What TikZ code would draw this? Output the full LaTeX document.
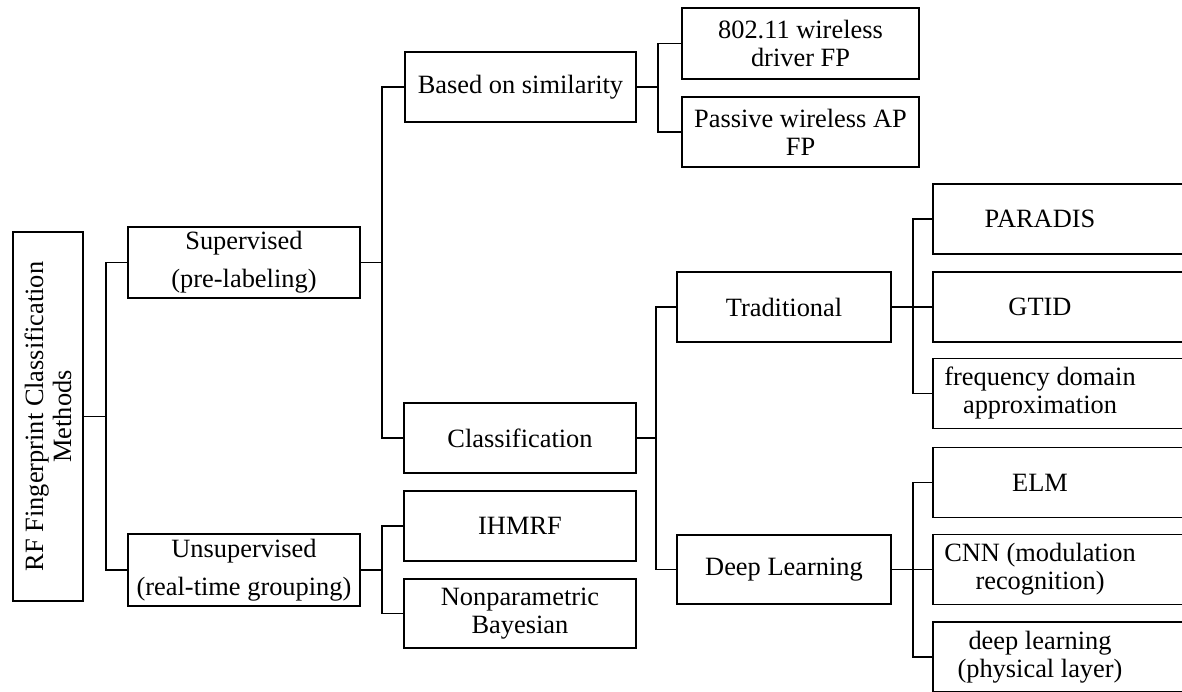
\documentclass[tikz,border=0pt]{standalone}
\usepackage{fontspec}
\setmainfont{Liberation Serif}
\begin{document}
\begin{tikzpicture}[x=0.5pt,y=-0.5pt,
  every node/.style={font=\fontsize{13.2pt}{14pt}\selectfont, inner sep=0pt, align=center},
  box/.style={draw, line width=0.8pt},
  rbox/.style={draw, line width=0.8pt, minimum width=138.5pt, minimum height=35pt},
  conn/.style={line width=0.8pt}]
\useasboundingbox (0,0) rectangle (1182,691);
% nodes
\node[box, rotate=90, minimum width=184.5pt, minimum height=35pt] (root) at (48,416.5) {RF Fingerprint Classification\\Methods};
\node[box, minimum width=116pt, minimum height=35.5pt] (sup) at (244,262.5) {Supervised\\[5pt](pre-labeling)};
\node[box, minimum width=116pt, minimum height=36pt] (unsup) at (244,570) {Unsupervised\\[5pt](real-time grouping)};
\node[box, minimum width=115.5pt, minimum height=35pt] (sim) at (520.5,87) {Based on similarity};
\node[box, minimum width=116pt, minimum height=35pt] (cls) at (520,438) {Classification};
\node[box, minimum width=116pt, minimum height=35pt] (ihmrf) at (520,526) {IHMRF};
\node[box, minimum width=116pt, minimum height=34.5pt] (nonpar) at (520,613.5) {Nonparametric\\Bayesian};
\node[box, minimum width=107pt, minimum height=35pt] (trad) at (784,307) {Traditional};
\node[box, minimum width=107pt, minimum height=34.5pt] (deep) at (784,569.5) {Deep Learning};
\node[box, minimum width=118.5pt, minimum height=35.5pt] (w802) at (800.5,43.5) {802.11 wireless\\driver FP};
\node[box, minimum width=118.5pt, minimum height=35pt] (pas) at (800.5,132) {Passive wireless AP\\FP};
% right column boxes (cut off at the right edge)
\node[rbox] (para) at (1071.5,219) {};
\node[rbox] (gtid) at (1071.5,307) {};
\node[rbox] (freq) at (1071.5,393.5) {};
\node[rbox] (elm) at (1071.5,482.5) {};
\node[rbox] (cnn) at (1071.5,569.5) {};
\node[rbox] (dlp) at (1071.5,657) {};
\node (parat) at (1040,219) {PARADIS};
\node (gtidt) at (1040,307) {GTID};
\node (freqt) at (1040,393.5) {frequency domain\\approximation};
\node (elmt) at (1040,482.5) {ELM};
\node (cnnt) at (1040,569.5) {CNN (modulation\\recognition)};
\node (dlpt) at (1040,657) {deep learning\\(physical layer)};
% connectors
\draw[conn] (root.south) -- (106,416.5) coordinate (j1);
\draw[conn] (sup.west) -| (j1) |- (unsup.west);
\draw[conn] (sup.east) -- (382,262.5) coordinate (j2);
\draw[conn] (sim.west) -| (j2) |- (cls.west);
\draw[conn] (unsup.east) -- (382,570) coordinate (j3);
\draw[conn] (ihmrf.west) -| (j3) |- (nonpar.west);
\draw[conn] (sim.east) -- (658,87) coordinate (j4);
\draw[conn] (w802.west) -| (j4) |- (pas.west);
\draw[conn] (cls.east) -- (656,438) coordinate (j5);
\draw[conn] (trad.west) -| (j5) |- (deep.west);
\draw[conn] (trad.east) -- (913,307) coordinate (j6);
\draw[conn] (para.west) -| (j6) |- (freq.west);
\draw[conn] (j6) -- (gtid.west);
\draw[conn] (deep.east) -- (913,569.5) coordinate (j7);
\draw[conn] (elm.west) -| (j7) |- (dlp.west);
\draw[conn] (j7) -- (cnn.west);
\end{tikzpicture}
\end{document}
